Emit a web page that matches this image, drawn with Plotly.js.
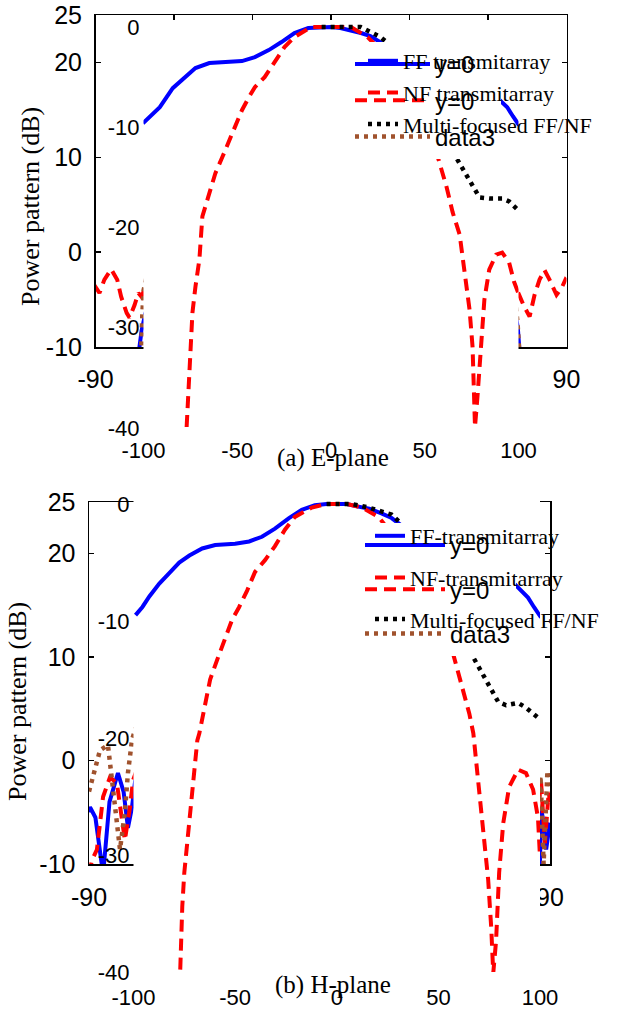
<!DOCTYPE html>
<html>
<head>
<meta charset="utf-8">
<script src="https://cdn.plot.ly/plotly-3.0.1.min.js"></script>
<style>html,body{margin:0;padding:0;background:#fff;}#chart{width:624px;height:1013px;}</style>
</head>
<body>
<div id="chart"></div>
<script>
// ---------- Inner (normalized) patterns, E-plane ----------
const E_FF_x = [-100.3,-91.3,-84.4,-78.1,-72.3,-64.9,-58.0,-47.5,-40.6,-33.2,-26.4,-19.5,-12.1,-5.3,0,5,10,16,21,26,33,40,47,55,62,70,78,85,91,94,97,100.3];
const E_FF_y = [-9.6,-8.0,-6.1,-5.0,-4.1,-3.6,-3.5,-3.4,-3.0,-2.3,-1.5,-0.6,-0.1,0,0,-0.1,-0.3,-0.6,-0.9,-1.5,-2.3,-3.0,-3.4,-3.5,-3.7,-4.3,-5.2,-6.4,-7.5,-8.0,-8.9,-9.8];
const E_NF_x = [-77.0,-76.5,-76.0,-74.9,-73.9,-72.3,-70.2,-68.6,-64.9,-61.7,-58.0,-54.4,-51.2,-47.5,-43.8,-40.6,-35.4,-30.1,-24.8,-19.5,-10.6,-5,0,5,10.6,19.5,24.8,30.1,35.4,40.6,45,51,57.0,61.7,64.9,68.6,71.2,73.9,75.5,76.0,76.5,76.8,78.1,80.2,81.8,84.4,88.1,91.3,95.0,97.6,100];
const E_NF_y = [-39.9,-37.9,-35.2,-31.9,-28.5,-25.9,-23.2,-18.9,-16.6,-14.6,-13.0,-11.3,-10.0,-8.3,-7.0,-6.0,-5.0,-3.5,-2.0,-1.0,0,0,0,0,0,-1.0,-2.0,-3.5,-5.0,-6.0,-7.2,-9.8,-13.0,-16.0,-18.5,-20.7,-24.2,-28.2,-31.9,-34.9,-37.9,-39.9,-36.9,-30.9,-27.2,-24.2,-22.7,-22.5,-23.5,-25.4,-26.6];
const E_MF_x = [-5,0,7.9,15.8,21.1,26.4,33,40,47,55,62,67.0,71.2,76.5,79.2,84.4,91.3,95,99.2,100];
const E_MF_y = [0,0,0,0,-0.5,-1.0,-2.0,-3.5,-5.5,-8.5,-11.5,-13.1,-14.5,-16.3,-17.0,-17.1,-17.1,-17.4,-18.2,-18.3];

// ---------- Inner (normalized) patterns, H-plane ----------
const H_FF_x = [-99.0,-95.6,-92.2,-87.3,-82.4,-77.5,-72.5,-66.2,-59.8,-50.0,-43.1,-36.8,-30.4,-23.5,-17.2,-10.8,-5,0,5,10,16,22,27,33,40,47,55,62,70,78,85,91,94.1,97,100.5];
const H_FF_y = [-9.5,-8.8,-7.9,-6.8,-5.9,-5.0,-4.4,-3.8,-3.5,-3.4,-3.2,-2.8,-2.1,-1.2,-0.5,-0.1,0,0,0,-0.2,-0.4,-0.8,-1.2,-2.0,-2.9,-3.3,-3.5,-3.7,-4.3,-5.2,-6.4,-7.4,-8.0,-8.8,-9.7];
const H_NF_x = [-77.0,-76.6,-76.0,-75.0,-73.5,-72.1,-70.1,-68.6,-67.6,-65.2,-62.3,-58.8,-55.4,-51.5,-48.0,-44.1,-40.2,-35.3,-30.4,-25.5,-20.6,-12.3,-5,0,5,12.3,20.6,25.5,30.4,35.3,40.2,45,51,57.4,60.3,62.7,65.2,67.2,70.1,72.5,74.5,76.0,77.0,78.4,79.9,81.9,84.8,89.2,93.1,96.6,99.0,100];
const H_NF_y = [-39.8,-37.3,-34.4,-31.5,-28.7,-25.9,-23.0,-20.2,-19.6,-17.4,-15.0,-13.3,-11.6,-9.9,-8.8,-7.4,-5.8,-4.8,-3.6,-2.2,-1.1,-0.3,0,0,0,-0.3,-1.1,-2.2,-3.6,-4.8,-5.8,-7.4,-9.6,-12.9,-14.8,-16.5,-17.9,-19.6,-24.4,-28.7,-32.1,-36.2,-40.1,-37.3,-31.5,-27.3,-24.2,-22.7,-23.0,-24.4,-26.8,-30.2];
const H_MF_x = [-5,0,7.4,15.7,22.1,26.9,33,40,47,55,62,67.2,71.1,76.0,79.4,83.3,89.2,93.1,99.5,100];
const H_MF_y = [0,0,0,-0.3,-0.7,-0.9,-1.9,-3.4,-5.5,-8.5,-11.5,-13.1,-14.4,-15.9,-16.9,-17.2,-17.0,-17.4,-18.3,-18.4];

// ---------- Outer (gain) patterns, E-plane ----------
const EO_FF_x = [-90,-86,-82,-78,-75,-74,-73.2,-72.4,-71,-65,-55,-45,-30,-15,0,15,30,45,55,65,70.5,71.4,72.2,74,76,80,85,90];
const EO_FF_y = [-15,-13.5,-16,-13,-12,-11,-10,-8.3,-6.5,-2,5,10,15,20,22.5,20,15,10,5,-2,-6.5,-8.0,-11,-12,-13,-16,-13.5,-15];
const EO_NF_x = [-90.4,-88.5,-86.6,-84.0,-81.7,-80.2,-78.1,-77.0,-75.1,-73.6,-72.4,-70,-60,-45,-30,-15,0,15,30,45,60,70,71.6,73.6,75.9,77.8,79.7,81.6,83.5,86.2,88.1,89.6,90];
const EO_NF_y = [-3.5,-4.3,-2.9,-1.8,-2.9,-4.7,-6.4,-6.9,-5.6,-4.3,-4.7,-3,2,9,15,20,22,20,15,9,2,-3,-4.3,-5.6,-6.8,-4.5,-2.9,-1.9,-2.9,-4.5,-3.8,-2.9,-3];
const EO_MF_x = [-90,-85,-80,-75,-73,-72.5,-72.1,-71.6,-70,-60,-45,-30,-15,0,15,30,45,60,70,71.3,71.7,72.3,75,80,85,90];
const EO_MF_y = [-16,-14,-17,-14,-12,-10,-6.5,-4,-2,6,12,16,20,21.5,20,16,12,6,-4,-7.5,-9.5,-12,-14,-17,-14,-16];

// ---------- Outer (gain) patterns, H-plane ----------
const HO_FF_x = [-90,-89.6,-87.5,-86,-84.5,-82,-78.7,-76.5,-74.8,-73.2,-72,-70,-60,-45,-30,-15,0,15,30,45,60,70,80,84,86,86.5,87.5,88.5,89.5,90];
const HO_FF_y = [-5,-4.5,-5.5,-8,-11,-4,-1.2,-3,-6.5,-4.5,-2,0,6,12,18,22,24.5,22,18,12,6,0,-4,-8,-11,-4.6,-6,-8.6,-7,-6];
const HO_NF_x = [-90,-88.8,-86.9,-84.5,-81.8,-79.1,-76,-74,-72.8,-70,-60,-45,-30,-15,0,15,30,45,60,70,80,85,86.5,88,89.5,90];
const HO_NF_y = [-11,-9.6,-8.6,-3.5,-1.6,-2.2,-7.7,-4.5,-1.9,0,5,11,17,22,24,22,17,11,5,0,-3,-6,-2,-8,-3,-4];
const HO_MF_x = [-90,-88,-85.7,-82.6,-80,-77.9,-76,-74.8,-73.2,-72,-60,-45,-30,-15,0,15,30,45,60,72,80,85,86.3,87.5,89,90];
const HO_MF_y = [-3,-1,1,1.5,-4,-8.6,-5,-1.2,2,3,8,14,19,22.5,23.5,22.5,19,14,8,3,-2,-6,-1.5,-10,-1,-3];

// ---------- Tick values / labels ----------
const outerXTicks = [-90,-60,-30,0,30,60,90];
const outerYTicks = [-10,0,10,20,25];
const innerXTicks = [-100,-50,0,50,100];
const innerYTicks = [-40,-30,-20,-10,0];
const topNames = ['FF transmitarray','NF transmitarray','Multi-focused FF/NF'];
const botNames = ['FF-transmitarray','NF-transmitarray','Multi-focused FF/NF'];
const outerNames = ['y=0','y=0','data3'];
const captions = ['(a) E-plane','(b) H-plane'];
const yTitle = 'Power pattern (dB)';

// ---------- helpers (layout only) ----------
const W = 624, H = 1013;
const xd = (a,b) => [a/W, b/W];
const yd = (top,bottom) => [1-bottom/H, 1-top/H];
const SANS = 'Liberation Sans, Arial, sans-serif';
const SERIF = 'Liberation Serif, Times New Roman, serif';

const BLUE = {color:'#0000FF', width:4, dash:'solid'};
const RED = {color:'#FF0000', width:4, dash:'12px,7px'};
const BLACK = {color:'#000000', width:4.5, dash:'4px,5px'};
const BROWN = {color:'#A0522D', width:4.5, dash:'4px,5px'};

function tr(x, y, line, name, xa, ya, leg, grp){
  return {type:'scatter', mode:'lines', x:x, y:y, line:line, name:name,
          xaxis:xa, yaxis:ya, legend:leg, legendgroup:grp, hoverinfo:'skip'};
}

const data = [
  tr(EO_FF_x, EO_FF_y, BLUE, outerNames[0], 'x','y','legend','a1'),
  tr(EO_NF_x, EO_NF_y, RED, outerNames[1], 'x','y','legend','a2'),
  tr(EO_MF_x, EO_MF_y, BROWN, outerNames[2], 'x','y','legend','a3'),
  tr(E_FF_x, E_FF_y, BLUE, topNames[0], 'x2','y2','legend2','b1'),
  tr(E_NF_x, E_NF_y, RED, topNames[1], 'x2','y2','legend2','b2'),
  tr(E_MF_x, E_MF_y, BLACK, topNames[2], 'x2','y2','legend2','b3'),
  tr(HO_FF_x, HO_FF_y, BLUE, outerNames[0], 'x3','y3','legend3','c1'),
  tr(HO_NF_x, HO_NF_y, RED, outerNames[1], 'x3','y3','legend3','c2'),
  tr(HO_MF_x, HO_MF_y, BROWN, outerNames[2], 'x3','y3','legend3','c3'),
  tr(H_FF_x, H_FF_y, BLUE, botNames[0], 'x4','y4','legend4','d1'),
  tr(H_NF_x, H_NF_y, RED, botNames[1], 'x4','y4','legend4','d2'),
  tr(H_MF_x, H_MF_y, BLACK, botNames[2], 'x4','y4','legend4','d3'),
];

function outerX(dom, anchor, standoff){
  return {domain:dom, anchor:anchor, range:[-90,90], tickvals:outerXTicks,
    ticktext:outerXTicks.map(String), ticks:'inside', ticklen:5, tickwidth:1.5, tickcolor:'#000',
    showline:true, linecolor:'#000', linewidth:1.5, mirror:'ticks', showgrid:false, zeroline:false,
    tickfont:{family:SANS, size:25, color:'#000'}, ticklabelstandoff:standoff, automargin:false, fixedrange:true};
}
function outerY(dom, anchor){
  return {domain:dom, anchor:anchor, range:[-10,25], tickvals:outerYTicks,
    ticktext:outerYTicks.map(String), ticks:'inside', ticklen:5, tickwidth:1.5, tickcolor:'#000',
    showline:true, linecolor:'#000', linewidth:1.5, mirror:'ticks', showgrid:false, zeroline:false,
    tickfont:{family:SANS, size:25, color:'#000'}, ticklabelstandoff:7, automargin:false, fixedrange:true};
}
function innerX(dom, anchor, standoff){
  return {domain:dom, anchor:anchor, range:[-100,100], tickvals:innerXTicks,
    ticktext:innerXTicks.map(String), ticks:'', showline:false, showgrid:false, zeroline:false,
    tickfont:{family:SANS, size:22, color:'#000'}, ticklabelstandoff:standoff, automargin:false, fixedrange:true};
}
function innerY(dom, anchor, top){
  return {domain:dom, anchor:anchor, range:[-40,top], tickvals:innerYTicks,
    ticktext:innerYTicks.map(String), ticks:'', showline:false, showgrid:false, zeroline:false,
    tickfont:{family:SANS, size:22, color:'#000'}, ticklabelstandoff:3, automargin:false, fixedrange:true};
}
function legendAt(left, top, font, itemwidth, gap, bg, ew){
  const o = {x:left/W, y:1-top/H, xanchor:'left', yanchor:'top', bgcolor:bg, borderwidth:0,
    font:font, itemwidth:itemwidth, traceorder:'grouped', tracegroupgap:gap};
  if(ew){ o.entrywidth = ew; o.entrywidthmode = 'pixels'; }
  return o;
}

const layout = {
  width:W, height:H, margin:{l:0,r:0,t:0,b:0,pad:0},
  paper_bgcolor:'#fff', plot_bgcolor:'#fff', showlegend:true,
  xaxis: outerX(xd(95.5,566.5),'y',9),
  yaxis: outerY(yd(15,347),'x'),
  xaxis2: innerX(xd(143.5,518.5),'y2',7),
  yaxis2: innerY(yd(23,428),'x2',0.4),
  xaxis3: outerX(xd(89,550),'y3',10),
  yaxis3: outerY(yd(502,864),'x3'),
  xaxis4: innerX(xd(133.5,540),'y4',10),
  yaxis4: innerY(yd(500.5,972),'x4',0.3),
  legend: legendAt(350, 42, {family:SANS,size:24,color:'#000'}, 75, 2, '#fff', 76),
  legend2: legendAt(363, 40, {family:SERIF,size:22,color:'#000'}, 30, 0, 'rgba(0,0,0,0)'),
  legend3: legendAt(360, 523, {family:SANS,size:24,color:'#000'}, 80, 10, '#fff', 78),
  legend4: legendAt(370, 515, {family:SERIF,size:22,color:'#000'}, 30, 10, 'rgba(0,0,0,0)'),
  annotations: [
    {xref:'paper', yref:'paper', x:30/W, y:1-207/H, text:yTitle, textangle:-90, showarrow:false,
     xanchor:'center', yanchor:'middle', font:{family:SERIF, size:26, color:'#000'}},
    {xref:'paper', yref:'paper', x:17/W, y:1-702/H, text:yTitle, textangle:-90, showarrow:false,
     xanchor:'center', yanchor:'middle', font:{family:SERIF, size:26, color:'#000'}},
    {xref:'paper', yref:'paper', x:333/W, y:1-458/H, text:captions[0], showarrow:false,
     xanchor:'center', yanchor:'middle', font:{family:SERIF, size:25, color:'#000'}},
    {xref:'paper', yref:'paper', x:333/W, y:1-985/H, text:captions[1], showarrow:false,
     xanchor:'center', yanchor:'middle', font:{family:SERIF, size:25, color:'#000'}}
  ]
};

Plotly.newPlot('chart', data, layout, {staticPlot:true, displayModeBar:false});
</script>
</body>
</html>
